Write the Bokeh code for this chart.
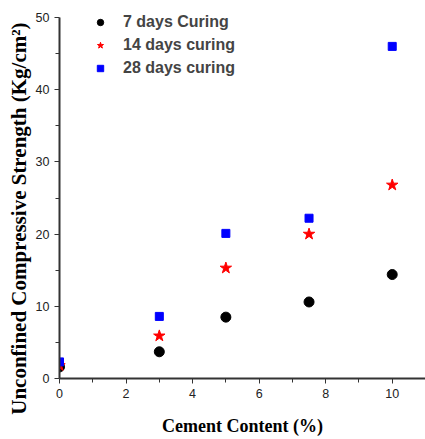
from bokeh.plotting import figure
from bokeh.models import Legend, LegendItem, FixedTicker, Title
from bokeh.embed import file_html
from bokeh.resources import INLINE

cement = [0, 3, 5, 7.5, 10]
days7 = [1.6, 3.7, 8.5, 10.6, 14.4]
days14 = [1.8, 5.9, 15.3, 20.0, 26.8]
days28 = [2.3, 8.6, 20.1, 22.2, 46.0]
labels = ["7 days Curing", "14 days curing", "28 days curing"]

p = figure(width=425, height=439, output_backend="svg", toolbar_location=None,
           x_range=(0, 11.0), y_range=(0, 52.08),
           min_border_left=59, min_border_top=2, min_border_bottom=61, min_border_right=0)
p.outline_line_color = None
p.grid.grid_line_color = None

r1 = p.scatter(cement, days7, marker="circle", size=10, color="black")
r2 = p.scatter(cement, days14, marker="star", size=12, color="red")
r3 = p.scatter(cement, days28, marker="square", size=8, color="blue")

legend = Legend(items=[LegendItem(label=labels[0], renderers=[r1]),
                       LegendItem(label=labels[1], renderers=[r2]),
                       LegendItem(label=labels[2], renderers=[r3])],
                location=(33, 300), border_line_color=None, background_fill_alpha=0,
                label_text_font="Liberation Sans", label_text_font_style="bold",
                label_text_font_size="16px", spacing=3, glyph_width=16,
                margin=0, padding=0, label_standoff=15)
p.add_layout(legend)

for ax in (p.xaxis[0], p.yaxis[0]):
    ax.axis_line_width = 2
    ax.axis_line_color = "#333333"
    ax.major_tick_line_color = "#333333"
    ax.minor_tick_line_color = "#333333"
    ax.major_tick_in = 0
    ax.major_tick_out = 5
    ax.minor_tick_in = 0
    ax.minor_tick_out = 4
    ax.major_label_text_font = "Liberation Sans"
    ax.major_label_text_font_size = "12.5px"
    ax.major_label_text_color = "#222222"

p.yaxis.bounds = (0, 50)
p.xaxis.ticker = FixedTicker(ticks=[0, 2, 4, 6, 8, 10], minor_ticks=[1, 3, 5, 7, 9])
p.yaxis.ticker = FixedTicker(ticks=[0, 10, 20, 30, 40, 50], minor_ticks=[5, 15, 25, 35, 45])
p.xaxis.axis_label = "Cement Content (%)"
p.xaxis.axis_label_text_font = "Liberation Serif"
p.xaxis.axis_label_text_font_style = "bold"
p.xaxis.axis_label_text_font_size = "18px"
p.xaxis.axis_label_text_color = "black"
p.xaxis.axis_label_standoff = 15

ytitle = Title(text="Unconfined Compressive Strength (Kg/cm²)", align="right", offset=20,
               text_font="Liberation Serif", text_font_style="bold", text_font_size="21px",
               text_color="black", standoff=4)
p.add_layout(ytitle, "left")

open("out.html", "w").write(file_html(p, INLINE))
